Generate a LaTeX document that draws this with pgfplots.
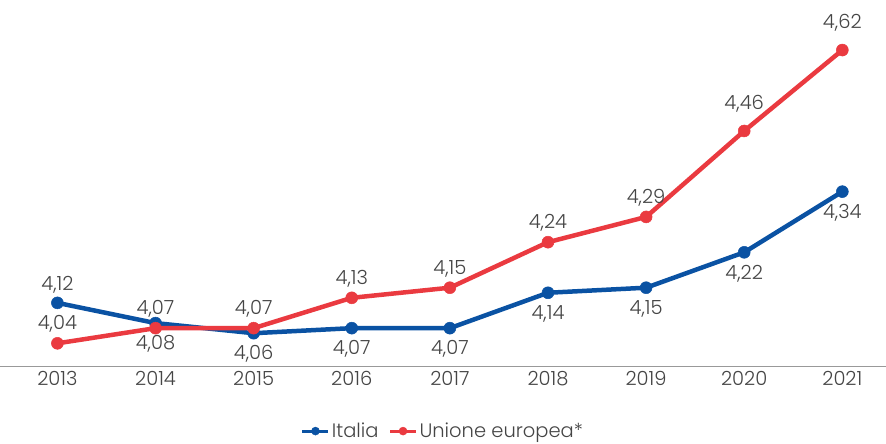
\documentclass[border=0pt]{standalone}
\usepackage{pgfplots}
\pgfplotsset{compat=1.18}
\usepackage{fontspec}
\setmainfont{Poppins}[UprightFont=* Light]
\definecolor{itblue}{HTML}{0A52A3}
\definecolor{eured}{HTML}{EA3A40}
\definecolor{txt}{HTML}{454545}
\newcommand{\lblfont}{\fontsize{19.5}{22}\selectfont}
\begin{document}
\begin{tikzpicture}
\begin{axis}[
    scale only axis,
    width=886pt, height=367pt,
    xmin=-0.58, xmax=8.44,
    ymin=3.994, ymax=4.719,
    axis x line=bottom, axis y line=none,
    axis line style={draw=gray!80, line width=1pt, -},
    xtick={0,...,8},
    xticklabels={2013,2014,2015,2016,2017,2018,2019,2020,2021},
    major tick length=0pt,
    ticklabel style={font=\lblfont, text=txt},
    xticklabel style={yshift=-1pt},
    /pgf/number format/assume math mode=true,
    legend style={at={(0.5,-0.176)}, anchor=center, draw=none, fill=none,
        legend columns=2, font=\lblfont, text=txt, inner sep=0pt,
        /tikz/every odd column/.append style={column sep=0pt},
        /tikz/every even column/.append style={column sep=8pt}},
    legend image code/.code={
        \draw[#1, line width=3pt, mark size=4pt, mark repeat=2, mark phase=2]
            plot coordinates {(0pt,0pt) (13pt,0pt) (26pt,0pt)};},
    nodes near coords style={font=\lblfont, text=txt,
        /pgf/number format/fixed, /pgf/number format/precision=2,
        /pgf/number format/fixed zerofill, /pgf/number format/use comma},
    clip=false,
]
\addplot[itblue, line width=4.5pt, mark=*, mark size=6pt, mark options={line width=0.5pt}]
    coordinates {(0,4.12) (1,4.08) (2,4.06) (3,4.07) (4,4.07) (5,4.14) (6,4.15) (7,4.22) (8,4.34)};
\addlegendentry{Italia}
\addplot[eured, line width=4.5pt, mark=*, mark size=6pt, mark options={line width=0.5pt}]
    coordinates {(0,4.04) (1,4.07) (2,4.07) (3,4.13) (4,4.15) (5,4.24) (6,4.29) (7,4.46) (8,4.62)};
\addlegendentry{Unione europea*}
% data labels
\addplot[draw=none, forget plot, nodes near coords, nodes near coords align={above},
    every node near coord/.append style={yshift=6pt}]
    coordinates {(0,4.12)};
\addplot[draw=none, forget plot, nodes near coords, nodes near coords align={below},
    every node near coord/.append style={yshift=-9pt}]
    coordinates {(1,4.08) (2,4.06) (3,4.07) (4,4.07) (5,4.14) (6,4.15) (7,4.22) (8,4.34)};
\addplot[draw=none, forget plot, nodes near coords, nodes near coords align={above},
    every node near coord/.append style={yshift=7pt}]
    coordinates {(0,4.04) (1,4.07) (2,4.07) (3,4.13) (4,4.15) (5,4.24) (6,4.29)};
\addplot[draw=none, forget plot, nodes near coords, nodes near coords align={above},
    every node near coord/.append style={yshift=15pt}]
    coordinates {(7,4.46) (8,4.62)};
\end{axis}
\path[use as bounding box] (0,-77pt) rectangle (886pt,367pt);
\end{tikzpicture}
\end{document}
